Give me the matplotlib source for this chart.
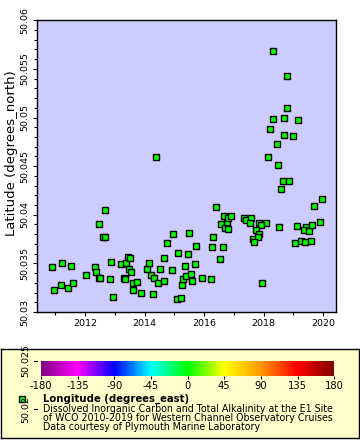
import matplotlib
matplotlib.use("Agg")
import matplotlib.pyplot as plt
from matplotlib.colors import LinearSegmentedColormap, Normalize
from matplotlib.cm import ScalarMappable
from matplotlib.ticker import MultipleLocator, FuncFormatter
import matplotlib.transforms as mtransforms

plt.rcParams['font.family'] = 'DejaVu Sans'
plt.rcParams['axes.unicode_minus'] = False

# sample time (decimal year) and latitude of each station visit
years = [2010.88, 2010.95, 2011.18, 2011.22, 2011.42, 2011.52, 2011.59, 2012.02,
         2012.33, 2012.36, 2012.47, 2012.48, 2012.51, 2012.59, 2012.66, 2012.69,
         2012.83, 2012.86, 2012.94, 2013.22, 2013.30, 2013.33, 2013.37, 2013.43,
         2013.50, 2013.47, 2013.53, 2013.60, 2013.63, 2013.74, 2013.87, 2014.10,
         2014.14, 2014.21, 2014.27, 2014.31, 2014.37, 2014.45, 2014.51, 2014.64,
         2014.65, 2014.74, 2014.92, 2014.94, 2015.09, 2015.12, 2015.21, 2015.26,
         2015.28, 2015.36, 2015.41, 2015.46, 2015.51, 2015.56, 2015.59, 2015.69,
         2015.73, 2015.93, 2016.22, 2016.25, 2016.29, 2016.39, 2016.52, 2016.56,
         2016.63, 2016.67, 2016.69, 2016.77, 2016.80, 2016.80, 2016.92, 2017.35,
         2017.41, 2017.56, 2017.53, 2017.83, 2018.07, 2017.90, 2017.73, 2017.86,
         2017.63, 2017.80, 2017.66, 2017.93, 2018.50, 2019.11, 2019.41, 2019.34,
         2019.54, 2019.64, 2019.88, 2019.04, 2019.24, 2019.38, 2019.58, 2019.68,
         2019.95, 2018.33, 2018.77, 2018.80, 2018.30, 2018.67, 2019.14, 2018.20,
         2018.70, 2018.97, 2018.44, 2018.13, 2018.47, 2018.64, 2018.84, 2018.60]
lats = [50.0346, 50.0323, 50.0328, 50.0350, 50.0325, 50.0347, 50.0330, 50.0338,
        50.0346, 50.0341, 50.0390, 50.0335, 50.0335, 50.0377, 50.0377, 50.0405,
        50.0334, 50.0351, 50.0315, 50.0349, 50.0335, 50.0334, 50.0350, 50.0357,
        50.0356, 50.0344, 50.0341, 50.0323, 50.0330, 50.0331, 50.0320, 50.0344,
        50.0350, 50.0338, 50.0318, 50.0335, 50.0459, 50.0330, 50.0344, 50.0356,
        50.0332, 50.0371, 50.0343, 50.0380, 50.0313, 50.0361, 50.0314, 50.0328,
        50.0334, 50.0347, 50.0337, 50.0360, 50.0381, 50.0339, 50.0332, 50.0349,
        50.0368, 50.0335, 50.0334, 50.0367, 50.0377, 50.0408, 50.0354, 50.0390,
        50.0367, 50.0399, 50.0386, 50.0393, 50.0397, 50.0385, 50.0399, 50.0397,
        50.0395, 50.0397, 50.0392, 50.0392, 50.0392, 50.0389, 50.0384, 50.0380,
        50.0375, 50.0377, 50.0372, 50.0330, 50.0387, 50.0388, 50.0387, 50.0384,
        50.0383, 50.0389, 50.0393, 50.0371, 50.0373, 50.0372, 50.0373, 50.0409,
        50.0416, 50.0568, 50.0543, 50.0510, 50.0499, 50.0500, 50.0497, 50.0488,
        50.0482, 50.0481, 50.0473, 50.0459, 50.0451, 50.0435, 50.0435, 50.0427]

cbar_ticks = [-180, -135, -90, -45, 0, 45, 90, 135, 180]
palette = ['#800080', '#ff00ff', '#0000ff', '#00ffff', '#00ff00',
           '#ffff00', '#ff9900', '#ff0000', '#800000']
extra_lat_ticks = [50.025, 50.02]
legend_lines = ["Dissolved Inorganic Carbon and Total Alkalinity at the E1 Site",
                "of WCO 2010-2019 for Western Channel Observatory Cruises",
                "Data courtesy of Plymouth Marine Laboratory"]

W, H = 360, 440
fig = plt.figure(figsize=(3.6, 4.4), dpi=100)

# legend box
lax = fig.add_axes([1 / W, 1 - 438 / H, 358 / W, 89 / H], zorder=0)
lax.set_facecolor('#ffffcc')
lax.set_xticks([])
lax.set_yticks([])
lax.set_xlim(0, 1)
lax.set_ylim(0, 1)
for s in lax.spines.values():
    s.set_linewidth(1.0)

# main plot
ax = fig.add_axes([36.7 / W, 1 - 312 / H, 299 / W, 291.7 / H], zorder=3)
ax.set_facecolor('#ccccff')
ax.plot(years, lats, 's', ms=4.5, mfc='#00ff00', mec='black', mew=1.0)
ax.set_xlim(2010.38, 2020.42)
ax.set_ylim(50.03, 50.06)
ax.xaxis.set_major_locator(MultipleLocator(2))
ax.xaxis.set_minor_locator(MultipleLocator(1))
ax.xaxis.set_major_formatter(FuncFormatter(lambda v, p: '%d' % v))
ax.yaxis.set_major_locator(MultipleLocator(0.005))
ax.yaxis.set_minor_locator(MultipleLocator(0.001))
ax.yaxis.set_major_formatter(FuncFormatter(lambda v, p: ('%.3f' % v).rstrip('0')))
ax.tick_params(which='major', length=3, width=0.8, labelsize=6.8, pad=2)
ax.tick_params(which='minor', length=2, width=0.8)
ax.tick_params(axis='y', labelrotation=90)
for lbl in ax.get_yticklabels():
    lbl.set_va('center')
for s in ax.spines.values():
    s.set_linewidth(1.0)
ax.set_ylabel('Latitude (degrees_north)', fontsize=9.5, va='center')
ax.yaxis.set_label_coords(-0.083, 0.545)

# tick labels that run on below the plot into the legend area
trans = mtransforms.blended_transform_factory(ax.transAxes, ax.transData)
for v in extra_lat_ticks:
    ax.plot([-0.01, 0], [v, v], color='black', lw=0.8, transform=trans, clip_on=False)
    ax.text(-0.02, v, ('%.3f' % v).rstrip('0'), rotation=90, fontsize=6.8,
            ha='right', va='center', transform=trans, clip_on=False, zorder=10)

# colour bar
cmap = LinearSegmentedColormap.from_list('rainbow2', palette)
cax = fig.add_axes([41 / W, 1 - 375.7 / H, 293.3 / W, 14.7 / H], zorder=1)
sm = ScalarMappable(norm=Normalize(-180, 180), cmap=cmap)
cb = fig.colorbar(sm, cax=cax, orientation='horizontal', ticks=cbar_ticks)
cb.outline.set_visible(False)
cb.ax.tick_params(labelsize=7.2, length=2, width=0.8, pad=1.5)
cb.ax.set_xticklabels([str(t) for t in cbar_ticks])

# legend entry
lax.plot([0.0587], [0.44], 's', ms=4.5, mfc='#00ff00', mec='black', mew=1.0)
lax.text(0.1165, 0.44, 'Longitude (degrees_east)', fontsize=7.3,
         fontweight='bold', va='center')
for i, line in enumerate(legend_lines):
    lax.text(0.1165, [0.330, 0.225, 0.12][i], line, fontsize=6.85, va='center')

fig.savefig('out.png', dpi=100)
